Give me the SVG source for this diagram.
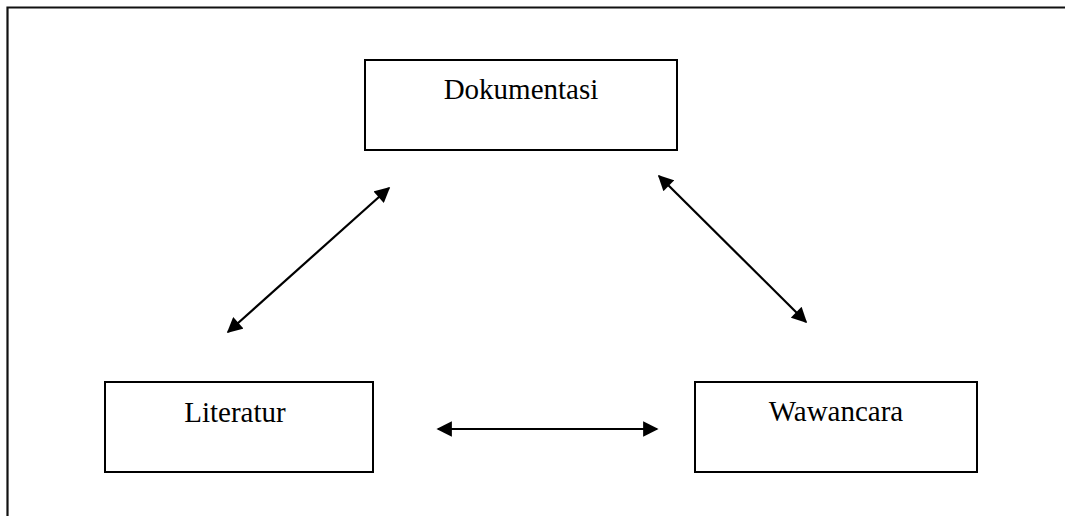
<svg xmlns="http://www.w3.org/2000/svg" width="1065" height="516" viewBox="0 0 1065 516">
<style>
.box{fill:#fff;stroke:#000;stroke-width:2}
.lbl{font-family:"Liberation Serif","Times New Roman",serif;font-size:29px;fill:#000;text-anchor:middle}
.con{stroke:#000;stroke-width:2.2;fill:none;marker-start:url(#ah);marker-end:url(#ah)}
</style>
<defs>
<marker id="ah" viewBox="0 0 10 10" refX="9" refY="5" markerWidth="7.5" markerHeight="7" orient="auto-start-reverse" markerUnits="strokeWidth">
<path d="M0,0 L10,5 L0,10 z" fill="#000"/>
</marker>
</defs>
<rect width="1065" height="516" fill="#fff"/>
<g id="frame">
<path d="M7.5,516 V7.5 H1065" fill="none" stroke="#111" stroke-width="2.2"/>
</g>
<g id="dokumentasi">
<rect class="box" x="365" y="60" width="312" height="90"/>
<text class="lbl" x="521" y="99">Dokumentasi</text>
</g>
<g id="literatur">
<rect class="box" x="105" y="382" width="268" height="90"/>
<text class="lbl" x="235" y="422">Literatur</text>
</g>
<g id="wawancara">
<rect class="box" x="695" y="382" width="282" height="90"/>
<text class="lbl" x="836" y="421">Wawancara</text>
</g>
<g id="connectors">
<line class="con" x1="228" y1="332" x2="389" y2="188"/>
<line class="con" x1="659" y1="176" x2="806" y2="322"/>
<line class="con" x1="438" y1="429" x2="657" y2="429"/>
</g>
</svg>
